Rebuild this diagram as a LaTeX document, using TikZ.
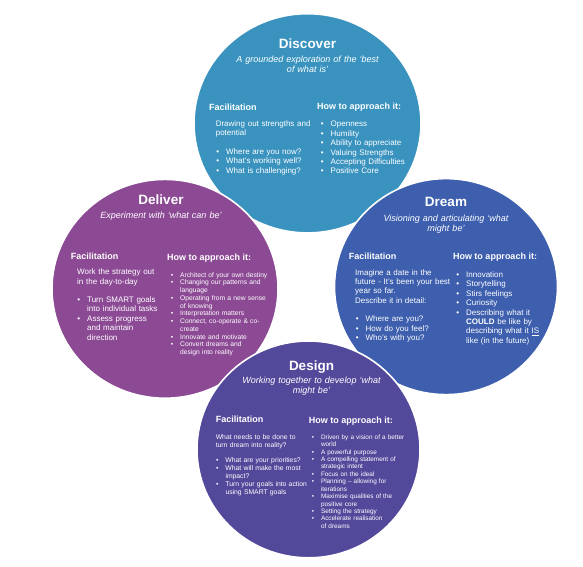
\documentclass[tikz,border=0pt]{standalone}
\usepackage{fontspec}
\setmainfont{Liberation Sans}
\definecolor{cdisc}{HTML}{3A93BF}
\definecolor{cdeli}{HTML}{8C4A95}
\definecolor{cdream}{HTML}{3D5FAE}
\definecolor{cdes}{HTML}{53499B}
\newcommand{\ftitle}{\fontsize{13.5}{16}\selectfont\bfseries}
\newcommand{\fsubt}{\fontsize{9}{10.1}\selectfont\itshape}
\newcommand{\fhead}{\fontsize{9}{11}\selectfont\bfseries}
\newcommand{\fbody}{\fontsize{8}{9.4}\selectfont}
\newcommand{\fsmallb}{\fontsize{6.7}{7.77}\selectfont}
\newcommand{\fdesf}{\fontsize{6.8}{7.9}\selectfont}
\newcommand{\fdesh}{\fontsize{6.4}{7.43}\selectfont}
\newcommand{\bul}{\leavevmode\llap{•\hspace{7pt}}}
\tikzset{
  ttl/.style={anchor=base, inner sep=0pt, text=white, font=\ftitle},
  subt/.style={anchor=base, inner sep=0pt, text=white, font=\fsubt, align=center, text width=190pt},
  hd/.style={anchor=base west, inner sep=0pt, text=white, font=\fhead},
  blk/.style={anchor=base west, inner sep=0pt, text=white, align=left, text width=150pt},
  disk/.style={draw=white, line width=1.6pt},
}
\begin{document}
\begin{tikzpicture}[x=1pt,y=-1pt]
\useasboundingbox (0,0) rectangle (583,566);
\fill[white] (0,0) rectangle (583,566);
% circles
\filldraw[disk, fill=cdisc] (307.5,123.3) ellipse [x radius=113.5pt, y radius=109.6pt];
\filldraw[disk, fill=cdeli] (165,288.8) ellipse [x radius=113pt, y radius=109.4pt];
\filldraw[disk, fill=cdream] (446,286.6) ellipse [x radius=111.5pt, y radius=108pt];
\filldraw[disk, fill=cdes] (308.5,449.4) ellipse [x radius=111.5pt, y radius=108.4pt];

% Discover
\node[ttl] (dis-t) at (307.5,48) {Discover};
\node[subt] (dis-s) at (307.5,62.3) {A grounded exploration of the ‘best\\of what is’};
\node[hd] (dis-fh) at (209,110.6) {Facilitation};
\node[hd] (dis-hh) at (317,109.2) {How to approach it:};
\node[blk, font=\fbody] (dis-fb) at (215.6,126.2) {Drawing out strengths and\\potential};
\node[blk, font=\fbody] (dis-fl) at (226,154.4) {\bul Where are you now?\\\bul What’s working well?\\\bul What is challenging?};
\node[blk, font=\fbody] (dis-hl) at (330.5,126.9) {\bul Openness\\\bul Humility\\\bul Ability to appreciate\\\bul Valuing Strengths\\\bul Accepting Difficulties\\\bul Positive Core};

% Deliver
\node[ttl] (del-t) at (161,204) {Deliver};
\node[subt] (del-s) at (161,218.6) {Experiment with ‘what can be’};
\node[hd] (del-fh) at (70.6,259) {Facilitation};
\node[hd] (del-hh) at (167,260) {How to approach it:};
\node[blk, font=\fbody] (del-fb) at (77,274.6) {Work the strategy out\\in the day-to-day};
\node[blk, font=\fbody] (del-fl) at (87,302.4) {\bul Turn SMART goals\\into individual tasks\\\bul Assess progress\\and maintain\\direction};
\node[blk, font=\fsmallb] (del-hl) at (180,277) {\bul Architect of your own destiny\\\bul Changing our patterns and\\language\\\bul Operating from a new sense\\of knowing\\\bul Interpretation matters\\\bul Connect, co-operate \& co-\\create\\\bul Innovate and motivate\\\bul Convert dreams and\\design into reality};

% Dream
\node[ttl] (dre-t) at (446,206.5) {Dream};
\node[subt] (dre-s) at (446,221.1) {Visioning and articulating ‘what\\might be’};
\node[hd] (dre-fh) at (348.7,259.3) {Facilitation};
\node[hd] (dre-hh) at (452.8,259.7) {How to approach it:};
\node[blk, font=\fbody] (dre-fb) at (355,275) {Imagine a date in the\\future - It’s been your best\\year so far.\\Describe it in detail:};
\node[blk, font=\fbody] (dre-fl) at (365.4,321.9) {\bul Where are you?\\\bul How do you feel?\\\bul Who’s with you?};
\node[blk, font=\fbody] (dre-hl) at (466,277.4) {\bul Innovation\\\bul Storytelling\\\bul Stirs feelings\\\bul Curiosity\\\bul Describing what it\\\textbf{COULD} be like by\\describing what it \underline{IS}\\like (in the future)};

% Design
\node[ttl] (des-t) at (311.5,370.2) {Design};
\node[subt] (des-s) at (311.5,383.6) {Working together to develop ‘what\\might be’};
\node[hd] (des-fh) at (215.6,422.1) {Facilitation};
\node[hd] (des-hh) at (308.6,423.2) {How to approach it:};
\node[blk, font=\fdesf] (des-fb) at (215.6,439.2) {What needs to be done to\\turn dream into reality?};
\node[blk, font=\fdesf] (des-fl) at (225.3,462.6) {\bul What are your priorities?\\\bul What will make the most\\impact?\\\bul Turn your goals into action\\using SMART goals};
\node[blk, font=\fdesh] (des-hl) at (320.8,439.2) {\bul Driven by a vision of a better\\world\\\bul A powerful purpose\\\bul A compelling statement of\\strategic intent\\\bul Focus on the ideal\\\bul Planning – allowing for\\iterations\\\bul Maximise qualities of the\\positive core\\\bul Setting the strategy\\\bul Accelerate realisation\\of dreams};
\end{tikzpicture}
\end{document}
